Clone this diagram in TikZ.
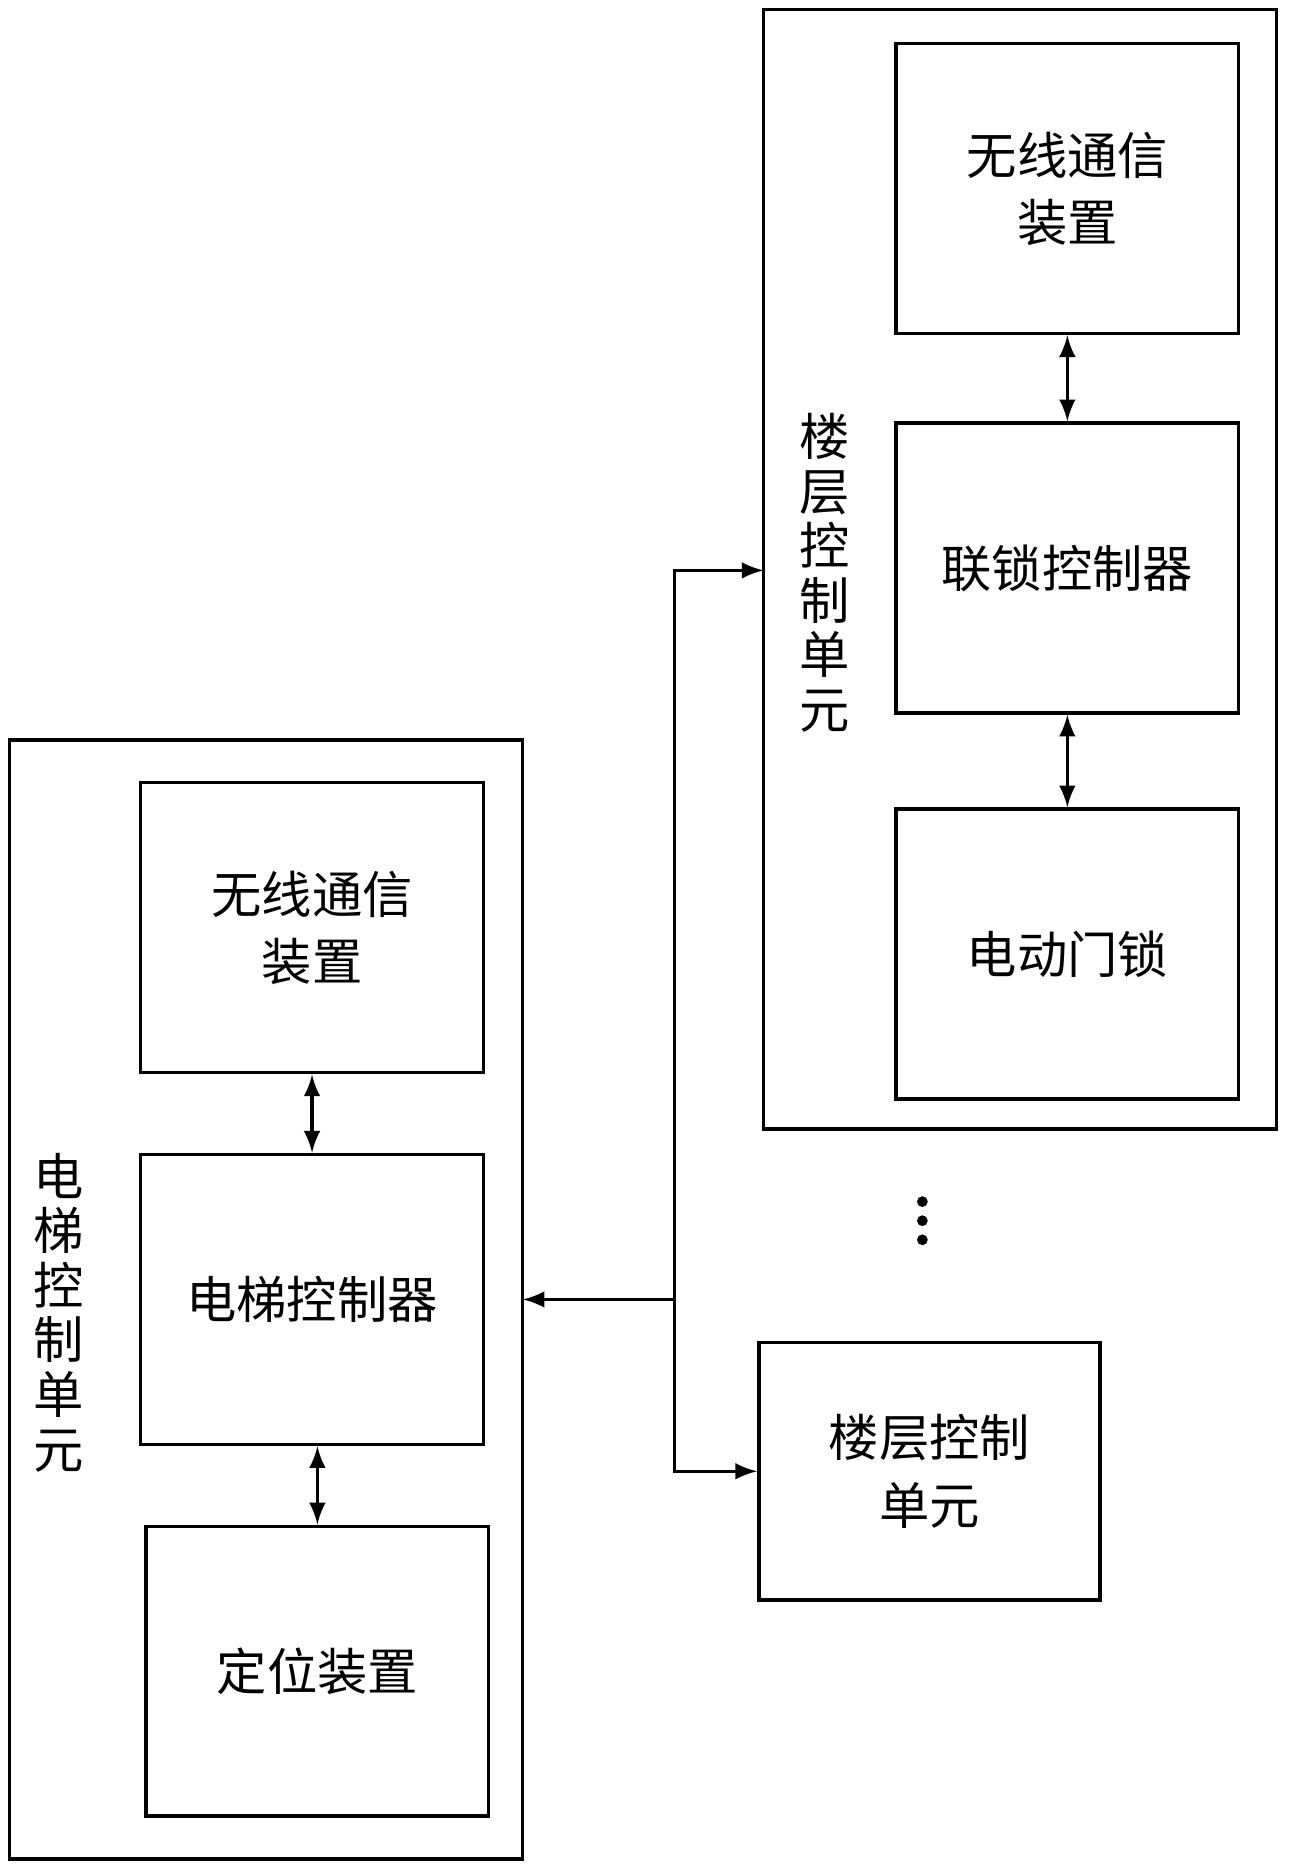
\documentclass[tikz,border=0pt]{standalone}
\usepackage{fontspec}
\newfontfamily\cjk{Noto Sans CJK SC}
\usetikzlibrary{positioning}
\tikzset{blk/.style={draw,thick,minimum width=28.7mm,minimum height=24.3mm,align=center,font=\cjk\fontsize{12}{16}\selectfont},
  grp/.style={draw,thick},
  vlbl/.style={font=\cjk\fontsize{12}{13}\selectfont,text width=4mm,align=center,inner sep=0pt},
  dot/.style={circle,fill,inner sep=0pt,minimum size=0.9mm},
  link/.style={thick,<->,>=latex}}
\begin{document}
\begin{tikzpicture}[x=0.1mm,y=-0.1mm]
  \useasboundingbox (0,0) rectangle (1080,1568);
  % elevator unit
  \draw[grp] (8,620) rectangle (438,1558);
  \node[blk] (wl_e) at (261.5,777.5) {无线通信\\装置};
  \node[blk] (ctl_e) at (261.5,1089) {电梯控制器};
  \node[blk] (pos) at (266,1400.5) {定位装置};
  \node[vlbl] (lbl_e) at (48,1100) {电\\梯\\控\\制\\单\\元};
  % floor unit
  \draw[grp] (640,8) rectangle (1070,946);
  \node[blk] (wl_f) at (894.5,158) {无线通信\\装置};
  \node[blk] (lock_c) at (894.5,476) {联锁控制器};
  \node[blk] (lock) at (894.5,799.5) {电动门锁};
  \node[vlbl] (lbl_f) at (690,480) {楼\\层\\控\\制\\单\\元};
  \node[blk,minimum width=28.6mm,minimum height=21.6mm] (fl_n) at (779,1233) {楼层控制\\单元};
  \foreach \i/\y in {1/1007,2/1023,3/1039}
    \node[dot] (dot\i) at (773,\y) {};
  % connections
  \coordinate (e_in) at (438,1089);
  \coordinate (f_in) at (640,478);
  \coordinate (bus) at (565,1089);
  \draw[link] (wl_e) -- (ctl_e);
  \draw[link] (ctl_e.south -| pos) -- (pos);
  \draw[link] (wl_f) -- (lock_c);
  \draw[link] (lock_c) -- (lock);
  \draw[thick,->,>=latex] (bus) -- (e_in);
  \draw[thick,->,>=latex] (bus) |- (f_in);
  \draw[thick,->,>=latex] (bus) |- (fl_n.west);
\end{tikzpicture}
\end{document}
